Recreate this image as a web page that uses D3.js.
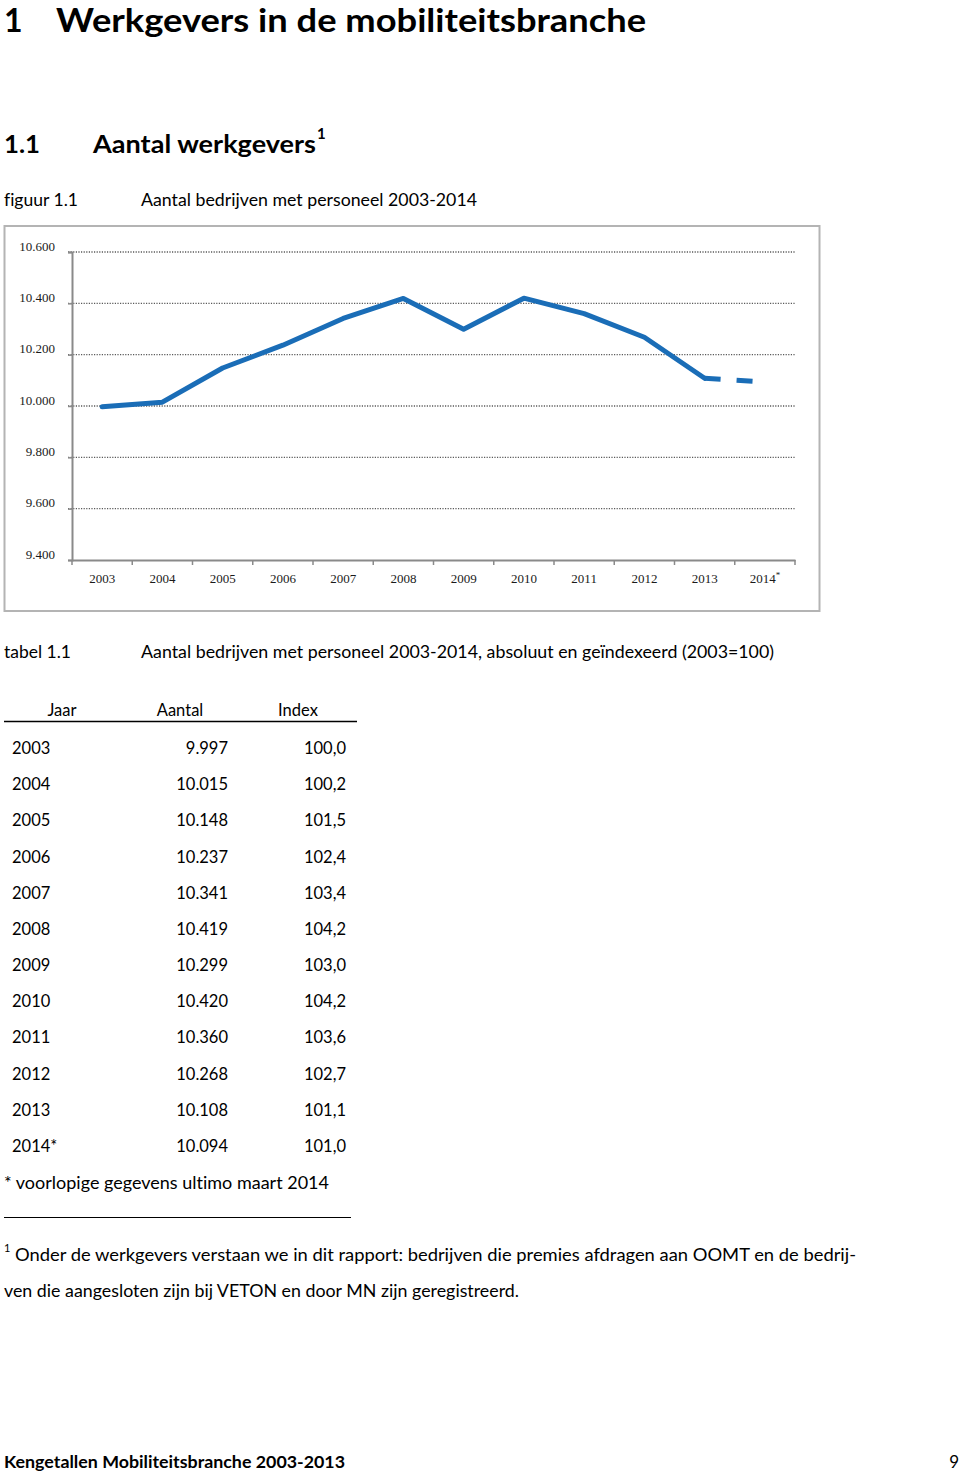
<!DOCTYPE html>
<html>
<head>
<meta charset="utf-8">
<script src="https://cdn.jsdelivr.net/npm/d3@7"></script>
<style>
  html, body { margin: 0; padding: 0; background: #fff; }
  svg { display: block; }
  text { font-variant-ligatures: none; }
</style>
</head>
<body>
<svg id="page" width="960" height="1475"></svg>
<script>
// ---- data ----
const years = ["2003","2004","2005","2006","2007","2008","2009","2010","2011","2012","2013","2014*"];
const aantal = [9997, 10015, 10148, 10237, 10341, 10419, 10299, 10420, 10360, 10268, 10108, 10094];
const indexValues = ["100,0","100,2","101,5","102,4","103,4","104,2","103,0","104,2","103,6","102,7","101,1","101,0"];
const yTicks = [9400, 9600, 9800, 10000, 10200, 10400, 10600];
const xTickLabels = ["2003","2004","2005","2006","2007","2008","2009","2010","2011","2012","2013","2014"];
const tableHeaders = ["Jaar", "Aantal", "Index"];

const nl = d3.formatLocale({decimal: ",", thousands: ".", grouping: [3], currency: ["€", ""]});
const fmt = nl.format(",d");

const svg = d3.select("#page");
const SANS = "Lato, 'Open Sans', sans-serif";
const SERIF = "'Liberation Serif', 'DejaVu Serif', serif";

function txt(x, y, s, opts = {}) {
  const t = svg.append("text")
    .attr("x", x).attr("y", y)
    .attr("font-family", opts.family || SANS)
    .attr("font-size", opts.size || 16.5)
    .attr("font-weight", opts.weight || "normal")
    .attr("fill", opts.fill || "#000")
    .attr("text-anchor", opts.anchor || "start")
    .text(s);
  if (opts.len) t.attr("textLength", opts.len).attr("lengthAdjust", "spacingAndGlyphs");
  return t;
}

// ---- headings ----
txt(4, 32, "1", {size: 32, weight: "bold"});
txt(56, 32, "Werkgevers in de mobiliteitsbranche", {size: 32, weight: "bold", len: 590});
txt(4, 153, "1.1", {size: 25, weight: "bold", len: 36});
txt(93, 153, "Aantal werkgevers", {size: 25, weight: "bold", len: 223});
txt(317, 139, "1", {size: 15, weight: "bold"});

txt(4, 206, "figuur 1.1", {len: 74});
txt(141, 206, "Aantal bedrijven met personeel 2003-2014", {len: 336});

// ---- chart ----
svg.append("rect").attr("x", 4.5).attr("y", 226).attr("width", 815).attr("height", 385)
  .attr("fill", "#fff").attr("stroke", "#b4b4b4").attr("stroke-width", 2);

const x = d3.scaleBand().domain(years).range([72, 795]);
const y = d3.scaleLinear().domain([9400, 10600]).range([560, 252]);

// gridlines
svg.append("g").selectAll("line").data(yTicks.filter(d => d > 9400)).join("line")
  .attr("x1", 68).attr("x2", 795)
  .attr("y1", d => y(d)).attr("y2", d => y(d))
  .attr("stroke", "#5a5a5a").attr("stroke-width", 1.3)
  .attr("stroke-dasharray", "1.2,1.4");

// y-axis
const yAxis = d3.axisLeft(y).tickValues(yTicks).tickSize(4).tickFormat(d => fmt(d));
const gy = svg.append("g").attr("transform", "translate(72,0)").call(yAxis);
gy.select(".domain").attr("stroke", "#8a8a8a").attr("stroke-width", 2);
gy.selectAll(".tick line").attr("stroke", "#8a8a8a").attr("stroke-width", 1.5);
gy.selectAll(".tick text")
  .attr("font-family", SERIF).attr("font-size", 13).attr("fill", "#1a1a1a")
  .attr("x", -17).attr("dy", "-0.15em");

// x-axis
const xAxis = d3.axisBottom(x).tickSize(0).tickFormat(() => "");
const gx = svg.append("g").attr("transform", "translate(0,560)").call(xAxis);
gx.select(".domain").attr("stroke", "#8a8a8a").attr("stroke-width", 2);
// band boundary ticks
const bounds = years.map(d => x(d)).concat([x.range()[1]]);
gx.append("g").selectAll("line").data(bounds).join("line")
  .attr("x1", d => d).attr("x2", d => d).attr("y1", 0).attr("y2", 5)
  .attr("stroke", "#8a8a8a").attr("stroke-width", 1.5);
// x labels
const xl = gx.append("g").selectAll("text").data(years).join("text")
  .attr("x", d => x(d) + x.bandwidth() / 2)
  .attr("y", 22.5)
  .attr("text-anchor", "middle")
  .attr("font-family", SERIF).attr("font-size", 13).attr("fill", "#1a1a1a");
xl.append("tspan").text((d, i) => xTickLabels[i]);
xl.filter(d => d.endsWith("*")).append("tspan")
  .attr("font-size", 9).attr("dy", -5).text("*");

// line
const pts = years.map((d, i) => [x(d) + x.bandwidth() / 2, y(aantal[i])]);
const line = d3.line();
svg.append("path").attr("d", line(pts.slice(0, 11)))
  .attr("fill", "none").attr("stroke", "#1a6db7").attr("stroke-width", 5)
  .attr("stroke-linejoin", "round").attr("stroke-linecap", "round");
svg.append("path").attr("d", line(pts.slice(10)))
  .attr("fill", "none").attr("stroke", "#1a6db7").attr("stroke-width", 5)
  .attr("stroke-dasharray", "16,16").attr("stroke-linecap", "butt");

// ---- table ----
txt(4, 658, "tabel 1.1", {len: 67});
txt(141, 658, "Aantal bedrijven met personeel 2003-2014, absoluut en geïndexeerd (2003=100)", {len: 633});

const headerX = [62, 180, 298];
tableHeaders.forEach((h, i) => txt(headerX[i], 716, h, {anchor: "middle"}));
svg.append("line").attr("x1", 4).attr("x2", 357).attr("y1", 721.5).attr("y2", 721.5)
  .attr("stroke", "#000").attr("stroke-width", 1.5);

const rowY = d3.scalePoint().domain(years).range([754, 1152]);
const rows = svg.append("g").selectAll("g").data(years).join("g")
  .attr("transform", d => `translate(0,${rowY(d)})`);
rows.append("text").attr("x", 12).text(d => d);
rows.append("text").attr("x", 228).attr("text-anchor", "end").text((d, i) => fmt(aantal[i]));
rows.append("text").attr("x", 346).attr("text-anchor", "end").text((d, i) => indexValues[i]);
rows.selectAll("text").attr("font-family", SANS).attr("font-size", 16.5).attr("fill", "#000");

txt(4, 1189, "* voorlopige gegevens ultimo maart 2014", {len: 325});

// footnote
svg.append("line").attr("x1", 4).attr("x2", 351).attr("y1", 1217.5).attr("y2", 1217.5)
  .attr("stroke", "#000").attr("stroke-width", 1);
txt(4, 1252, "1", {size: 11});
txt(15, 1261, "Onder de werkgevers verstaan we in dit rapport: bedrijven die premies afdragen aan OOMT en de bedrij-", {len: 841});
txt(4, 1297, "ven die aangesloten zijn bij VETON en door MN zijn geregistreerd.", {len: 515});

// footer
txt(4, 1468, "Kengetallen Mobiliteitsbranche 2003-2013", {size: 17, weight: "bold", len: 341});
txt(959, 1468, "9", {size: 17, anchor: "end"});
</script>
</body>
</html>
